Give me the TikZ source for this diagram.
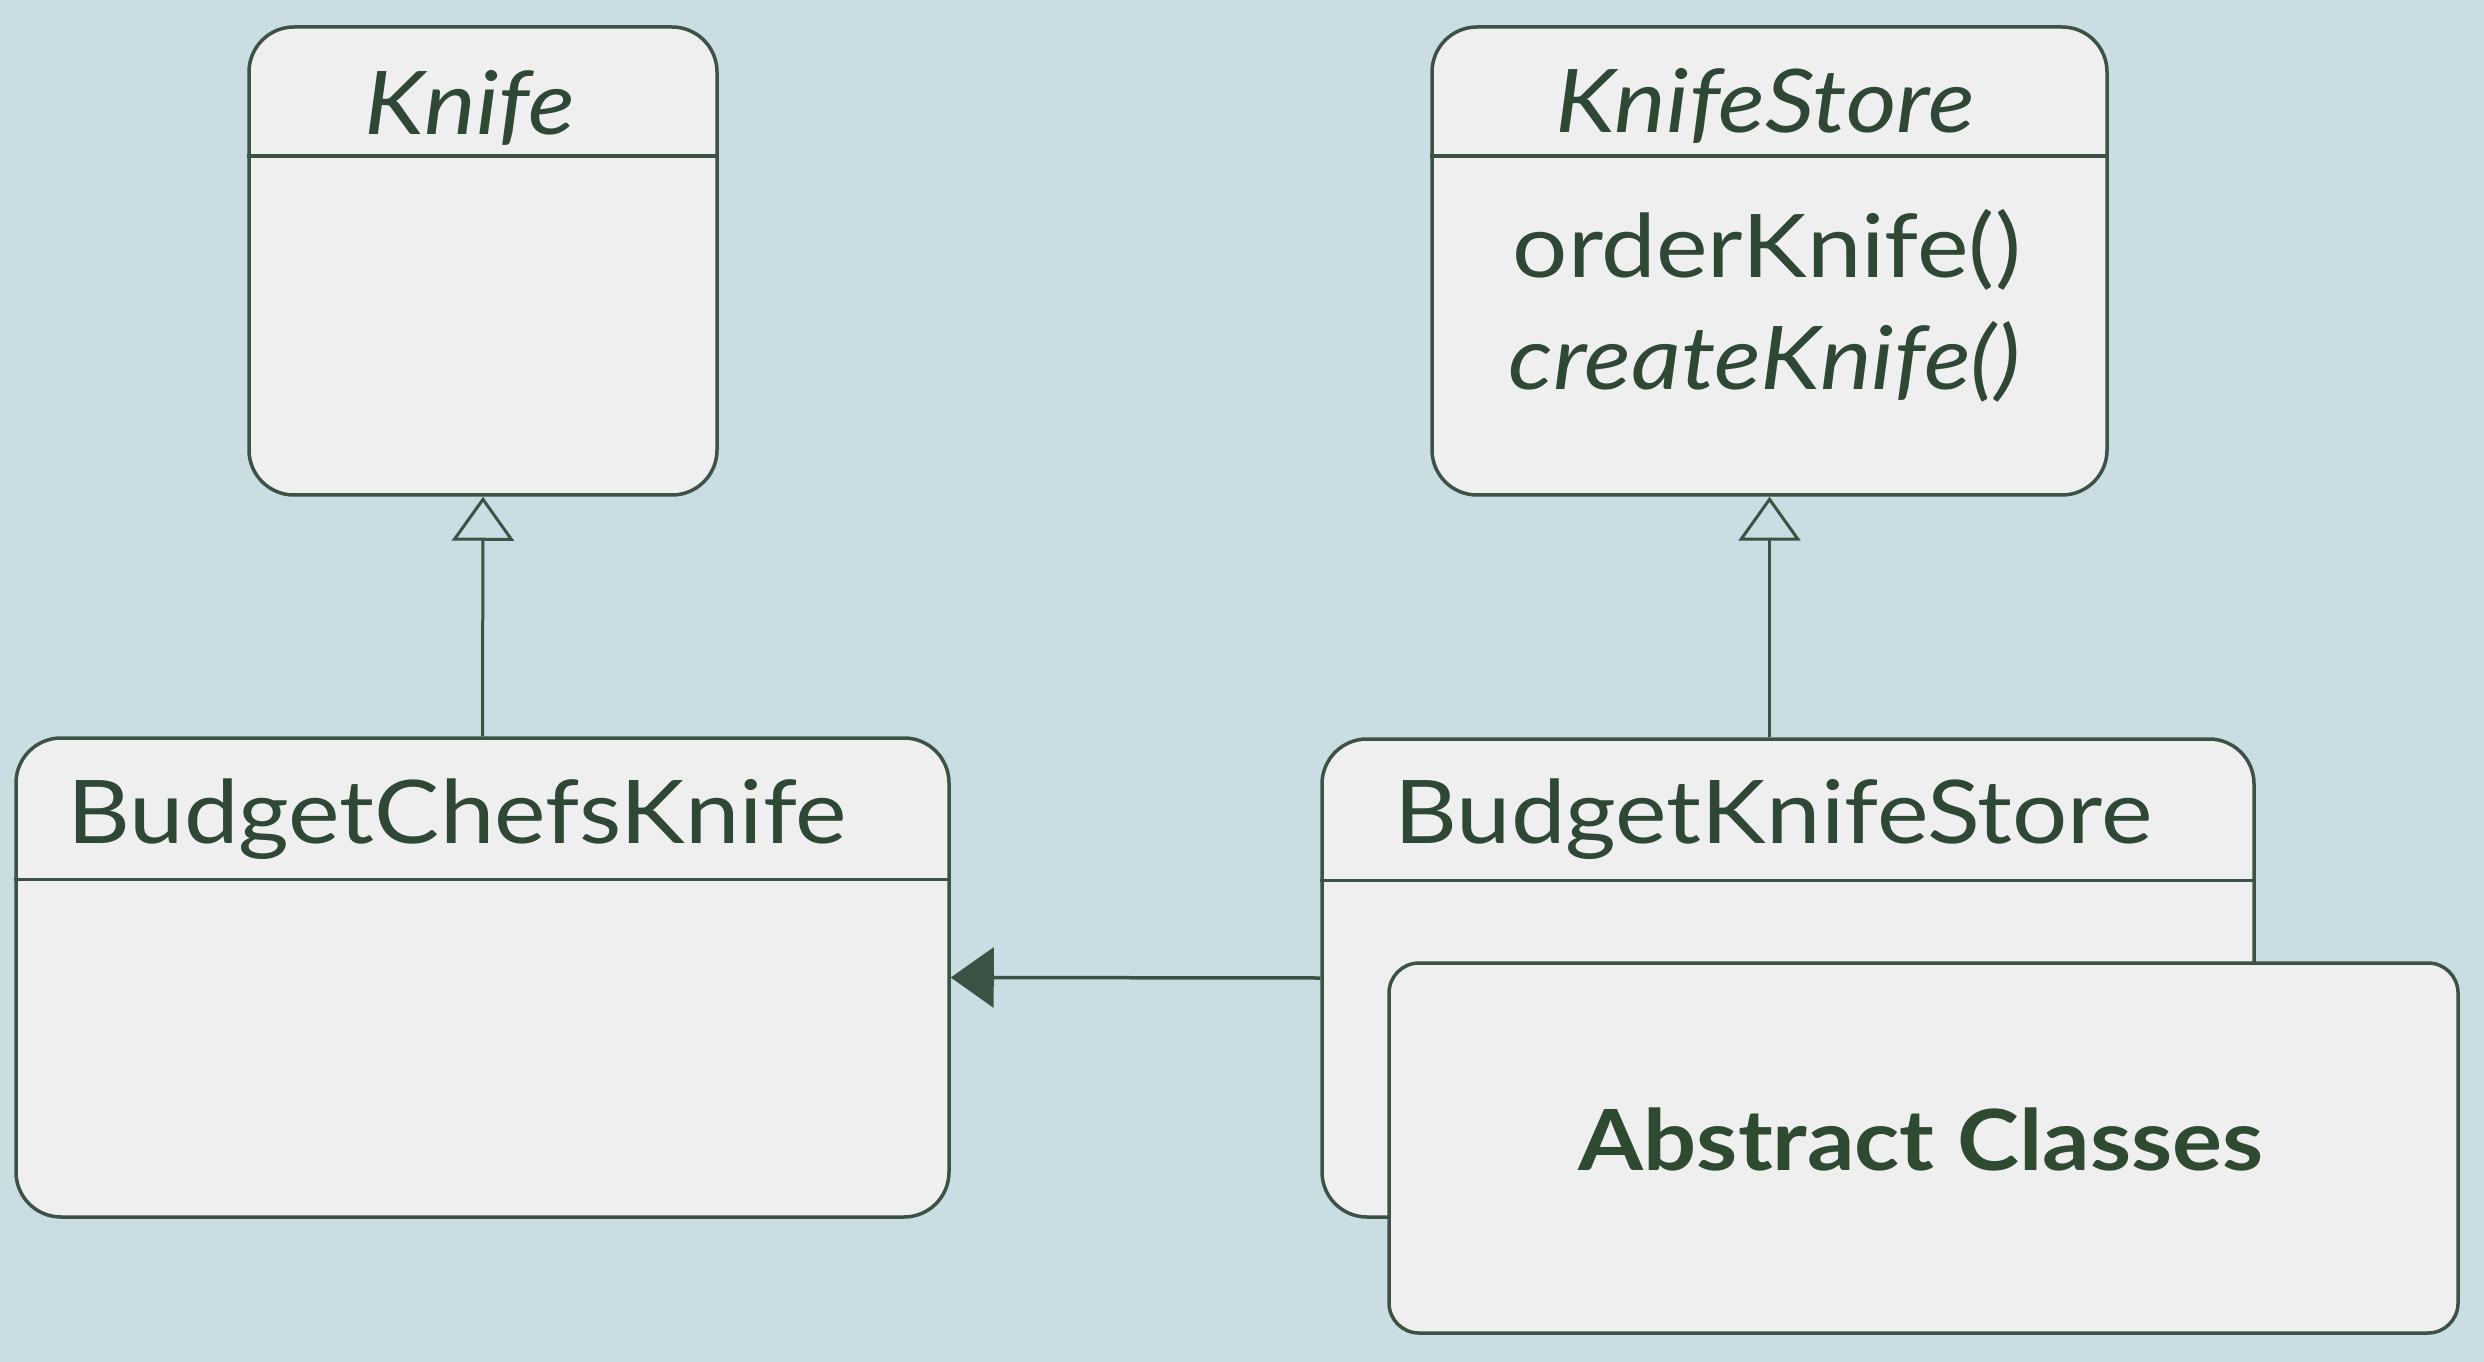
\documentclass[tikz,border=0pt]{standalone}
\usepackage{fontspec}
\setmainfont{Lato}[FakeStretch=1.11]
\usetikzlibrary{arrows.meta}
\definecolor{bgblue}{HTML}{C9DDE3}
\definecolor{boxgray}{HTML}{EFEFEF}
\definecolor{umlline}{HTML}{3C5244}
\definecolor{umltext}{HTML}{2F4835}
\definecolor{abstext}{HTML}{2E4A30}

\begin{document}
\begin{tikzpicture}
		[%%%%%%%%%%%%%%%%%%%%%%%%%%%%%%
		x=0.1mm, y=-0.1mm,
		cls/.style={rectangle,draw=umlline,line width=0.35mm,fill=boxgray,rounded corners=4.5mm,inner sep=0pt},
		clsname/.style={text=umltext,inner sep=0pt,font=\fontsize{25}{30}\selectfont},
		inherit/.style={draw=umlline,line width=0.3mm,-{Triangle[open,length=4.4mm,width=6.2mm]}},
		assoc/.style={draw=umlline,line width=0.35mm,-{Triangle[length=4.3mm,width=6mm]}},
		]%%%%%%%%%%%%%%%%%%%%%%%%%%%%%%
		
		\fill[bgblue] (0,0) rectangle (2484,1362);
		\useasboundingbox (0,0) rectangle (2484,1362);
		
		\node[cls,minimum width=46.8mm,minimum height=46.8mm] (knife) at (483,261){};
		\node[cls,minimum width=67.5mm,minimum height=46.8mm] (store) at (1769.5,261){};
		\node[cls,minimum width=93.3mm,minimum height=47.9mm] (chefs) at (482.5,977.5){};
		\node[cls,minimum width=93.2mm,minimum height=47.8mm] (bstore) at (1788,978){};
		\foreach \n/\h in {knife/13.1,store/13.1,chefs/14.3,bstore/14.3}
			\draw[umlline,line width=0.35mm] ([yshift=-\h mm]\n.north west) -- ([yshift=-\h mm]\n.north east);
		
		\node[clsname,anchor=base] (knifetitle) at (470,135){\itshape Knife};
		\node[clsname,anchor=base] (storetitle) at (1765,133){\itshape KnifeStore};
		\node[clsname,anchor=base west] (order) at (1512,278){orderKnife()};
		\node[clsname,anchor=base west] (create) at (1508,390){\itshape createKnife()};
		\node[clsname,anchor=base west] (chefstitle) at (67,843){BudgetChefsKnife};
		\node[clsname,anchor=base west] (bstoretitle) at (1394,843){BudgetKnifeStore};
		
		\draw[inherit] (chefs.north) -- (knife.south);
		\draw[inherit] (bstore.north -| store.south) -- (store.south);
		\draw[assoc] (bstore.west) -- (chefs.east);
		
		\node[cls,rounded corners=3mm,minimum width=106.9mm,minimum height=37mm] (abstract) at (1923.5,1148){};
		\node[text=abstext,inner sep=0pt,anchor=base,font=\fontsize{24}{28}\bfseries] (abstitle) at (1921,1170){Abstract Classes};
		\end{tikzpicture}
\end{document}
